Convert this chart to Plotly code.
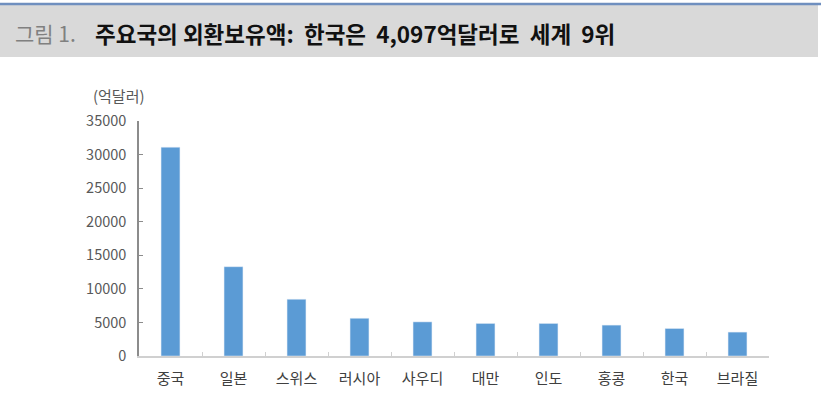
import plotly.graph_objects as go

countries = ['중국', '일본', '스위스', '러시아', '사우디', '대만', '인도', '홍콩', '한국', '브라질']
reserves = [31100, 13300, 8450, 5620, 5080, 4850, 4850, 4600, 4097, 3560]
y_ticks = [0, 5000, 10000, 15000, 20000, 25000, 30000, 35000]
y_labels = [str(v) for v in y_ticks]

font_kr = 'Noto Sans CJK KR'

fig = go.Figure(go.Bar(x=countries, y=reserves, marker_color='#5b9bd5', width=0.3))

W, H = 821, 412
L, R, T, B = 139, 52, 121, 56
pw, ph = W - L - R, H - T - B

def px_x(x):
    return (x - L) / pw

def px_y(y):
    return (H - B - y) / ph

fig.update_layout(
    width=W, height=H,
    margin=dict(l=L, r=R, t=T, b=B),
    paper_bgcolor='white', plot_bgcolor='white',
    showlegend=False,
    font=dict(family=font_kr, size=14, color='#595959'),
)
fig.update_yaxes(range=[0, 35000], tickvals=y_ticks, ticktext=y_labels, showgrid=False,
                 showline=True, linecolor='#8c8c8c', linewidth=1.5,
                 ticks='inside', ticklen=4, tickcolor='#8c8c8c', ticklabelstandoff=8,
                 tickfont=dict(size=14.5, color='#595959'), zeroline=False)
fig.update_xaxes(showline=True, linecolor='#d0d0d0', linewidth=1.5,
                 ticks='inside', tickson='boundaries', ticklen=4, tickcolor='#d0d0d0',
                 ticklabelstandoff=8,
                 tickfont=dict(size=15, color='#404040'))

# title band
fig.add_shape(type='rect', xref='paper', yref='paper', x0=px_x(0), x1=px_x(818),
              y0=px_y(57), y1=px_y(5), fillcolor='#d9d9d9', line_width=0, layer='below')
fig.add_shape(type='line', xref='paper', yref='paper', x0=px_x(0), x1=px_x(821),
              y0=px_y(4), y1=px_y(4), line=dict(color='#6f8fbf', width=2.5))
fig.add_annotation(xref='paper', yref='paper', x=px_x(13), y=px_y(33),
                   xanchor='left', yanchor='middle', showarrow=False,
                   text='<span style="color:#808080">그림 1.</span>',
                   font=dict(family=font_kr, size=21, color='#808080'))
fig.add_annotation(xref='paper', yref='paper', x=px_x(93), y=px_y(33),
                   xanchor='left', yanchor='middle', showarrow=False,
                   text='<b>주요국의 외환보유액:  한국은  4,097억달러로  세계  9위</b>',
                   font=dict(family=font_kr, size=22.5, color='#111111'))
fig.add_annotation(xref='paper', yref='paper', x=px_x(91), y=px_y(95),
                   xanchor='left', yanchor='middle', showarrow=False,
                   text='(억달러)', font=dict(family=font_kr, size=15, color='#595959'))

fig.write_html("out.html", config={'displayModeBar': False},
               post_script="document.body.style.margin='0';")
